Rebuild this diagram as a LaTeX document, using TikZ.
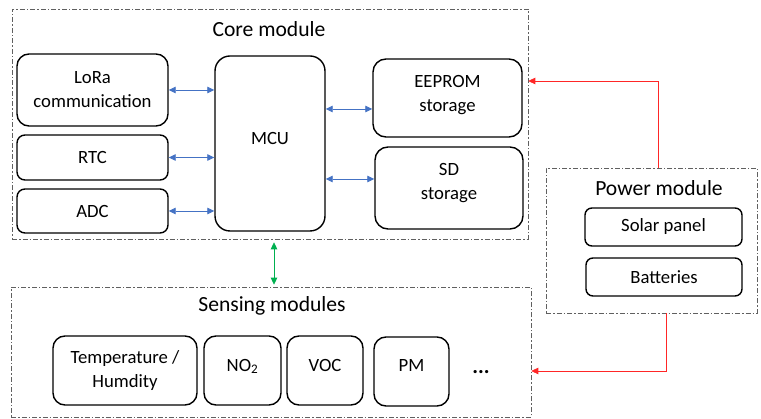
\documentclass[tikz,border=0pt]{standalone}
\usepackage{fontspec}
\setmainfont{Carlito}
\usetikzlibrary{arrows.meta,calc}
\definecolor{blueA}{HTML}{4472C4}
\definecolor{redA}{HTML}{FF0000}
\definecolor{greenA}{HTML}{00B050}
\newcommand{\innerfont}{\fontsize{18.7pt}{24pt}\selectfont}
\newcommand{\titlefont}{\fontsize{21.6pt}{26pt}\selectfont}
\begin{document}
\begin{tikzpicture}[x=1pt,y=-1pt,
  group/.style={draw=gray!75!black, line width=0.6pt, dash pattern=on 5pt off 2pt on 1.5pt off 2pt, rectangle, inner sep=0pt},
  blk/.style={draw=black, line width=1.4pt, rounded corners=#1, align=center, font=\innerfont, inner sep=0pt},
  blk/.default=10pt,
  sz/.style 2 args={minimum width=#1pt, minimum height=#2pt},
  title/.style={font=\titlefont, inner sep=0pt},
  bus/.style={blueA, line width=0.8pt, {Triangle[length=7pt,width=6.5pt]}-{Triangle[length=7pt,width=6.5pt]}},
  gbus/.style={greenA, line width=0.8pt, {Triangle[length=7pt,width=6.5pt]}-{Triangle[length=7pt,width=6.5pt]}},
  pwr/.style={redA!85, line width=0.7pt, -{Triangle[length=7pt,width=6.5pt]}}
]
\useasboundingbox (0,0) rectangle (761,419);

% groups
\node[group, sz={516}{230}] (core) at (270,124) {};
\node[title] (coret) at (269,29) {Core module};
\node[group, sz={211}{145}] (power) at (651.5,240.5) {};
\node[title] (powert) at (659,188) {Power module};
\node[group, sz={520}{130}] (sens) at (271,352) {};
\node[title] (senst) at (272,306) {Sensing modules};

% core blocks
\node[blk=12pt, sz={151}{72}] (lora) at (92.5,90) {LoRa\\communication};
\node[blk=8pt, sz={151}{45}] (rtc) at (92.5,157.5) {RTC};
\node[blk=8pt, sz={151}{44}] (adc) at (92.5,211) {ADC};
\node[blk=15pt, sz={110}{175}, text depth=10pt] (mcu) at (270,143.5) {MCU};
\node[blk=13pt, sz={149}{78}, text depth=10pt] (eeprom) at (447.5,98) {EEPROM\\storage};
\node[blk=13pt, sz={148}{82}, text depth=14pt] (sd) at (449,188) {SD\\storage};

% power blocks
\node[blk=7pt, sz={157}{38}] (solar) at (663.5,227) {Solar panel};
\node[blk=7pt, sz={156}{38}] (batt) at (664,277) {Batteries};

% sensing blocks
\node[blk=12pt, sz={144}{69}] (temp) at (125,370.5) {Temperature /\\Humdity};
\node[blk=12pt, sz={77}{69}, text depth=11pt] (no2) at (242.5,370.5) {NO\textsubscript{2}};
\node[blk=12pt, sz={76}{69}, text depth=11pt] (voc) at (325,370.5) {VOC};
\node[blk=12pt, sz={75}{69}, text depth=11pt] (pm) at (411.5,371.5) {PM};
\node[title, font=\titlefont\bfseries] (more) at (481,372.5) {...};

% blue buses
\draw[bus] (lora.east) -- (lora.east -| mcu.west);
\draw[bus] (rtc.east) -- (rtc.east -| mcu.west);
\draw[bus] (adc.east) -- (adc.east -| mcu.west);
\coordinate (ein) at ($(eeprom.west)+(0,11)$);
\coordinate (sin) at ($(sd.west)+(0,-9)$);
\draw[bus] (ein -| mcu.east) -- (ein);
\draw[bus] (sin -| mcu.east) -- (sin);

% green bus
\draw[gbus] ($(core.south)+(4,3)$) -- ($(sens.north)+(3,-2)$);

% power lines
\coordinate (pcore) at ($(core.east)+(0,-43)$);
\coordinate (psens) at ($(sens.east)+(0,19)$);
\draw[pwr] ($(power.north)+(6.5,0)$) |- (pcore);
\draw[pwr] ($(power.south)+(15,0)$) |- (psens);
\end{tikzpicture}
\end{document}
